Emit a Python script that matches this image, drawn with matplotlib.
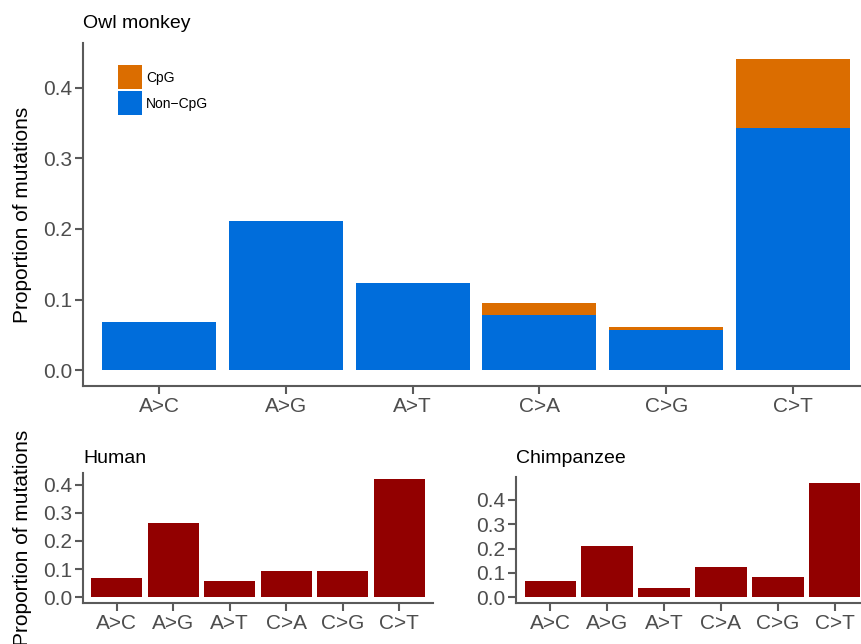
import matplotlib
matplotlib.use("Agg")
import matplotlib.pyplot as plt
import numpy as np

plt.rcParams['font.family'] = ['Liberation Sans', 'DejaVu Sans']

# mutasjonstyper
kategorier = ['A>C', 'A>G', 'A>T', 'C>A', 'C>G', 'C>T']

# Owl monkey, stablet
owl_noncpg = [0.068, 0.212, 0.124, 0.078, 0.057, 0.343]
owl_cpg = [0.0, 0.0, 0.0, 0.018, 0.004, 0.098]

# Human og Chimpanzee
human = [0.069, 0.264, 0.058, 0.094, 0.094, 0.421]
chimp = [0.067, 0.212, 0.038, 0.125, 0.084, 0.471]

blaa = '#006DDB'
oransje = '#DB6D00'
rod = '#920000'
aksefarge = '#5A5A5A'
tekstfarge = '#4D4D4D'

W, H = 862, 644
fig = plt.figure(figsize=(W / 100, H / 100), dpi=100)


def lag_akse(venstre, topp, hoyre, bunn):
    # piksler -> figurbrøk
    return fig.add_axes([venstre / W, 1 - bunn / H, (hoyre - venstre) / W, (bunn - topp) / H])


def stil(ax, ymaks):
    ax.set_xlim(0.4, 6.6)
    ax.set_ylim(-0.05 * ymaks, ymaks * 1.05)
    ax.set_xticks(np.arange(1, 7))
    ax.set_xticklabels(kategorier)
    ax.set_yticks([0.0, 0.1, 0.2, 0.3, 0.4])
    ax.set_yticklabels(['0.0', '0.1', '0.2', '0.3', '0.4'])
    for s in ['top', 'right']:
        ax.spines[s].set_visible(False)
    for s in ['left', 'bottom']:
        ax.spines[s].set_color(aksefarge)
        ax.spines[s].set_linewidth(1.5)
    ax.tick_params(colors=aksefarge, labelcolor=tekstfarge, labelsize=15,
                   length=6, width=1.5, pad=2)


x = np.arange(1, 7)

# Øverste panel
ax1 = lag_akse(83, 43, 869, 386)
ax1.bar(x, owl_noncpg, width=0.9, color=blaa, label='Non\u2212CpG')
ax1.bar(x, owl_cpg, width=0.9, bottom=owl_noncpg, color=oransje, label='CpG')
stil(ax1, max(np.array(owl_noncpg) + np.array(owl_cpg)))
ax1.set_title('Owl monkey', loc='left', fontsize=14, pad=11)
ax1.set_ylabel('Proportion of mutations', fontsize=15)
ax1.yaxis.set_label_coords(-0.065, 0.5)
h, l = ax1.get_legend_handles_labels()
ax1.legend(h[::-1], l[::-1], loc='upper left', bbox_to_anchor=(0.044, 0.935),
           frameon=False, fontsize=10, handlelength=1.73, handleheight=2.28,
           labelspacing=0.15, handletextpad=0.3, borderpad=0, borderaxespad=0)

# Human
ax2 = lag_akse(83, 473, 433, 603)
ax2.bar(x, human, width=0.9, color=rod)
stil(ax2, max(human))
ax2.set_title('Human', loc='left', fontsize=14, pad=7)
ax2.set_ylabel('Proportion of mutations', fontsize=15)
ax2.yaxis.set_label_coords(-0.146, 0.5)

# Chimpanzee
ax3 = lag_akse(516, 477, 869, 603)
ax3.bar(x, chimp, width=0.9, color=rod)
stil(ax3, max(chimp))
ax3.set_title('Chimpanzee', loc='left', fontsize=14, pad=10)

fig.savefig('out.png', dpi=100)
